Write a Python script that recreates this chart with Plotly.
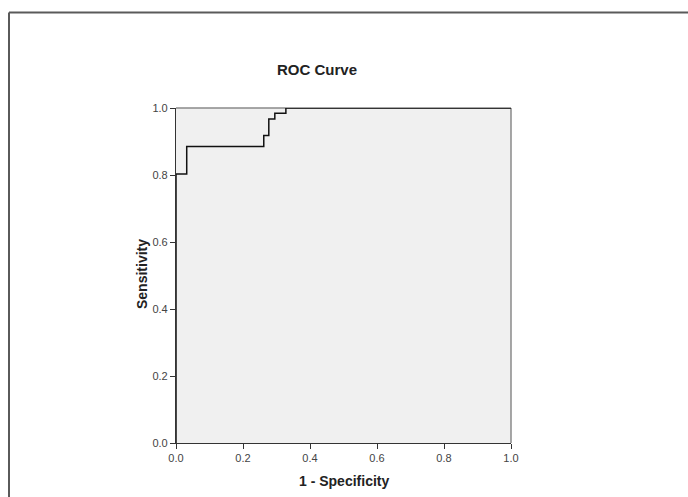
import plotly.graph_objects as go

# ROC curve data (step points)
fpr = [0.0, 0.0, 0.032, 0.262, 0.277, 0.295, 0.328, 1.0]
tpr = [0.0, 0.803, 0.885, 0.918, 0.967, 0.984, 1.0, 1.0]
tick_vals = [0.0, 0.2, 0.4, 0.6, 0.8, 1.0]
tick_text = ["0.0", "0.2", "0.4", "0.6", "0.8", "1.0"]

FONT = "Arial, Liberation Sans, sans-serif"

fig = go.Figure()
fig.add_trace(go.Scatter(
    x=fpr, y=tpr, mode="lines", line_shape="hv",
    line=dict(color="#111111", width=1.5), showlegend=False, hoverinfo="skip"))

axis_common = dict(
    range=[0, 1], tickvals=tick_vals, ticktext=tick_text,
    ticks="outside", ticklen=5, tickcolor="#333333", tickwidth=1,
    showline=True, linecolor="#333333", linewidth=1.2,
    showgrid=False, zeroline=False,
    tickfont=dict(family=FONT, size=11, color="#444444"),
)

frame_left = (9 - 176) / 335
frame_top = (443 - 12.5) / 335

fig.update_layout(
    width=688, height=497,
    margin=dict(l=176, r=177, t=108, b=54),
    paper_bgcolor="white", plot_bgcolor="#f0f0f0",
    xaxis=dict(**axis_common),
    yaxis=dict(**axis_common),
    shapes=[
        # gray top and right frame of plot area
        dict(type="line", xref="paper", yref="paper", x0=0, x1=1, y0=1, y1=1,
             line=dict(color="#8a8a8a", width=1.5), layer="below"),
        dict(type="line", xref="paper", yref="paper", x0=1, x1=1, y0=0, y1=1,
             line=dict(color="#8a8a8a", width=1.5), layer="below"),
        # outer chart frame: only the top and left edges are in view
        dict(type="line", xref="paper", yref="paper",
             x0=frame_left, x1=1.6, y0=frame_top, y1=frame_top,
             line=dict(color="#5a5a5a", width=2)),
        dict(type="line", xref="paper", yref="paper",
             x0=frame_left, x1=frame_left, y0=-0.3, y1=frame_top,
             line=dict(color="#5a5a5a", width=2)),
    ],
    annotations=[
        dict(text="<b>ROC Curve</b>", xref="paper", yref="paper",
             x=(317 - 176) / 335, y=(443 - 70) / 335, showarrow=False,
             xanchor="center", yanchor="middle",
             font=dict(family=FONT, size=15, color="#222222")),
        dict(text="<b>1 - Specificity</b>", xref="paper", yref="paper",
             x=0.5, y=(443 - 481) / 335, showarrow=False,
             xanchor="center", yanchor="middle",
             font=dict(family=FONT, size=14, color="#222222")),
        dict(text="<b>Sensitivity</b>", xref="paper", yref="paper",
             x=(142 - 176) / 335, y=(443 - 274) / 335, showarrow=False,
             textangle=-90, xanchor="center", yanchor="middle",
             font=dict(family=FONT, size=14, color="#222222")),
    ],
)

fig.write_html(
    "out.html",
    config={"displayModeBar": False},
    post_script="document.body.style.margin='0';document.body.style.overflow='hidden';",
)
